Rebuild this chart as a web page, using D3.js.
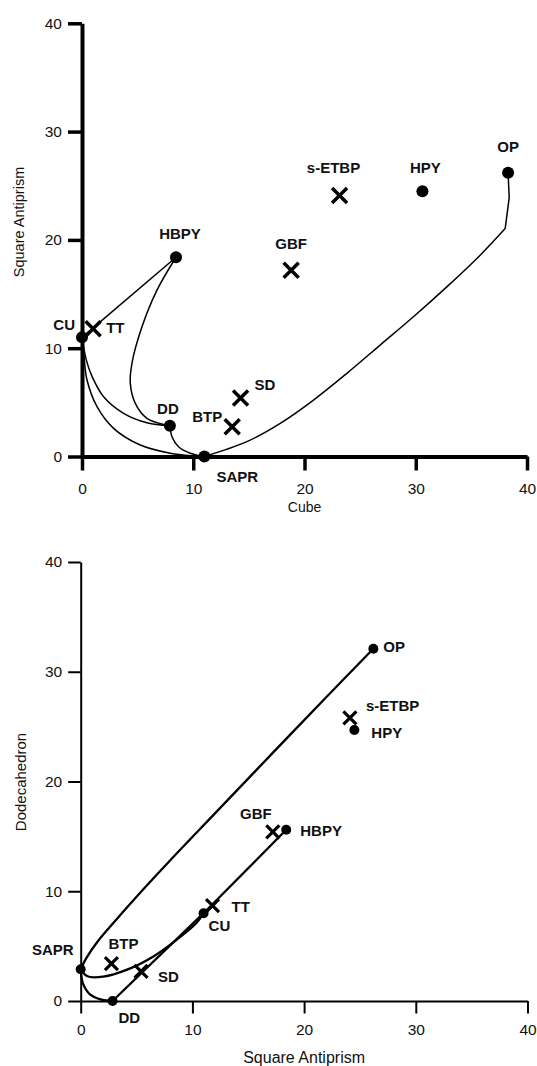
<!DOCTYPE html>
<html>
<head>
<meta charset="utf-8">
<script src="https://cdn.jsdelivr.net/npm/d3@7"></script>
<style>
  html, body { margin: 0; padding: 0; background: #fff; }
  svg { display: block; font-family: "Liberation Sans", Arial, Helvetica, sans-serif; }
</style>
</head>
<body>
<svg id="chart" width="537" height="1066"></svg>
<script>
// Continuous shape measures of each coordination polyhedron
const shapes = ["CU", "TT", "HBPY", "DD", "BTP", "SD", "SAPR", "GBF", "s-ETBP", "HPY", "OP"];
const cube            = [0,    1.0,  8.45, 7.9,  13.5, 14.25, 11.0, 18.8, 23.15, 30.6, 38.3];
const squareAntiprism = [11.0, 11.8, 18.4, 2.85, 2.75, 5.4,   0,    17.2, 24.1,  24.5, 26.2];
const dodecahedron    = [8.0,  8.7,  15.6, 0,    3.4,  2.7,   2.9,  15.4, 25.8,  24.7, 32.1];
// Ideal polyhedra get a filled dot, the others a cross
const idealShapes = ["CU", "HBPY", "DD", "SAPR", "HPY", "OP"];
const axisTicks = [0, 10, 20, 30, 40];

// Minimal-distortion interconversion paths: smooth "via" points, then an optional
// straight "tail" drawn with corners up to the end shape
const cubeSapPaths = [
  { from: "CU", to: "HBPY", via: [] },
  { from: "HBPY", to: "DD", via: [[6.74, 15.36], [5.39, 11.97], [4.49, 8.6], [4.34, 6.75], [4.79, 4.91], [5.84, 3.52], [6.9, 3.08]] },
  { from: "CU", to: "DD", via: [[0.39, 8.9], [0.9, 7.4], [1.94, 5.52], [3.74, 3.99], [5.84, 3.12]] },
  { from: "CU", to: "SAPR", via: [[0.2, 9.0], [0.45, 7.06], [1.35, 4.6], [2.84, 2.6], [5.24, 1.06], [7.93, 0.3], [10.03, 0.05]] },
  { from: "DD", to: "SAPR", via: [[8.09, 1.83], [8.68, 0.9], [9.73, 0.3]] },
  { from: "SAPR", to: "OP", via: [[14.82, 1.37], [17.82, 3.06], [20.81, 5.21], [23.81, 7.68], [26.8, 10.29], [29.79, 12.9], [32.79, 15.66], [35.79, 18.59], [38.04, 21.05]], tail: [[38.4, 23.9]] }
];
const sapDodPaths = [
  { from: "SAPR", to: "OP", via: [[0.5, 3.9], [1.5, 5.4], [3.0, 7.2], [5.0, 9.5], [8.0, 12.8], [12, 17.07], [17, 22.4], [22, 27.7]] },
  { from: "SAPR", to: "CU", via: [[0.6, 2.25], [2.01, 2.22], [4.1, 2.83], [6.47, 4.04], [8.56, 5.56], [10.34, 7.08]] },
  { from: "SAPR", to: "DD", via: [[0.2, 1.6], [0.83, 0.6], [1.87, 0.12]] },
  { from: "DD", to: "CU", via: [] },
  { from: "CU", to: "HBPY", via: [] }
];

// Label placement: [anchor, dx, dy] in pixels from the marker
const cubeSapLabels = {
  "CU": ["end", -7, -7], "TT": ["start", 13, 4], "HBPY": ["middle", 4, -18],
  "DD": ["middle", -2, -12], "BTP": ["end", -10, -5], "SD": ["start", 14, -8],
  "SAPR": ["start", 12, 25], "GBF": ["middle", 0, -21], "s-ETBP": ["middle", -6, -22],
  "HPY": ["middle", 3, -18], "OP": ["middle", 0, -21]
};
const sapDodLabels = {
  "CU": ["start", 5, 18], "TT": ["start", 19, 6], "HBPY": ["start", 14, 6],
  "DD": ["start", 6, 22], "BTP": ["middle", 12, -15], "SD": ["start", 17, 11],
  "SAPR": ["end", -7, -14], "GBF": ["middle", -17, -13], "s-ETBP": ["start", 16, -7],
  "HPY": ["start", 17, 8], "OP": ["start", 10, 3]
};

const svg = d3.select("#chart");
svg.append("rect").attr("width", 537).attr("height", 1066).attr("fill", "#fff");

const idx = name => shapes.indexOf(name);

function drawPanel(cfg) {
  const g = svg.append("g");
  const x = d3.scaleLinear().domain([0, 40]).range(cfg.xRange);
  const y = d3.scaleLinear().domain([0, 40]).range(cfg.yRange);

  // axes
  const xAxis = d3.axisBottom(x).tickValues(axisTicks).tickSize(cfg.tickLen)
    .tickSizeOuter(0).tickPadding(cfg.xPad);
  const yAxis = d3.axisLeft(y).tickValues(axisTicks).tickSize(cfg.tickLen)
    .tickSizeOuter(0).tickPadding(cfg.yPad);
  const gx = g.append("g").attr("transform", `translate(0,${y(0)})`).call(xAxis);
  const gy = g.append("g").attr("transform", `translate(${x(0)},0)`).call(yAxis);
  [gx, gy].forEach(a => {
    a.select(".domain").attr("stroke", "#000").attr("stroke-width", cfg.axisWidth);
    a.selectAll(".tick line").attr("stroke", "#000").attr("stroke-width", cfg.tickWidth);
    a.selectAll(".tick text").attr("fill", "#111").attr("font-size", 15.5)
      .attr("font-family", "Liberation Sans, Arial, Helvetica, sans-serif");
  });

  // axis titles
  g.append("text").attr("x", x(20)).attr("y", cfg.xTitleY).attr("text-anchor", "middle")
    .attr("font-size", cfg.xTitleSize).attr("fill", "#111").text(cfg.xTitle);
  g.append("text").attr("transform", `translate(${cfg.yTitleX},${cfg.yTitleY}) rotate(-90)`)
    .attr("text-anchor", "middle").attr("font-size", cfg.yTitleSize).attr("fill", "#111").text(cfg.yTitle);

  // interconversion paths
  const smooth = d3.line().x(d => x(d[0])).y(d => y(d[1])).curve(d3.curveCatmullRom.alpha(0.5));
  const straight = d3.line().x(d => x(d[0])).y(d => y(d[1]));
  cfg.paths.forEach(p => {
    const a = idx(p.from), b = idx(p.to);
    const start = [cfg.xs[a], cfg.ys[a]], end = [cfg.xs[b], cfg.ys[b]];
    if (p.tail) {
      g.append("path").attr("d", smooth([start, ...p.via])).attr("fill", "none")
        .attr("stroke", "#000").attr("stroke-width", cfg.pathWidth);
      g.append("path").attr("d", straight([p.via[p.via.length - 1], ...p.tail, end]))
        .attr("fill", "none").attr("stroke", "#000").attr("stroke-width", cfg.pathWidth)
        .attr("stroke-linejoin", "round");
    } else {
      g.append("path").attr("d", smooth([start, ...p.via, end])).attr("fill", "none")
        .attr("stroke", "#000").attr("stroke-width", cfg.pathWidth);
    }
  });

  // markers
  shapes.forEach((name, i) => {
    const px = x(cfg.xs[i]), py = y(cfg.ys[i]);
    if (idealShapes.includes(name)) {
      g.append("circle").attr("cx", px).attr("cy", py).attr("r", cfg.dotR).attr("fill", "#000");
    } else {
      const h = cfg.crossHalf;
      g.append("path")
        .attr("d", `M${px - h},${py - h}L${px + h},${py + h}M${px - h},${py + h}L${px + h},${py - h}`)
        .attr("stroke", "#000").attr("stroke-width", cfg.crossWidth).attr("fill", "none");
    }
    const [anchor, dx, dy] = cfg.labels[name];
    g.append("text").attr("x", px + dx).attr("y", py + dy).attr("text-anchor", anchor)
      .attr("font-size", 15).attr("font-weight", "bold").attr("fill", "#111").text(name);
  });
}

// Cube vs. square antiprism
drawPanel({
  xRange: [82, 527], yRange: [456.5, 23.3],
  xs: cube, ys: squareAntiprism,
  tickLen: 14, xPad: 12, yPad: 6, axisWidth: 4, tickWidth: 3.5,
  xTitle: "Cube", xTitleY: 512, xTitleSize: 14,
  yTitle: "Square Antiprism", yTitleX: 24, yTitleY: 222, yTitleSize: 14.5,
  paths: cubeSapPaths, pathWidth: 1.5,
  dotR: 6, crossHalf: 7.5, crossWidth: 3.5,
  labels: cubeSapLabels
});

// Square antiprism vs. dodecahedron
drawPanel({
  xRange: [80.7, 527.5], yRange: [1001, 562],
  xs: squareAntiprism, ys: dodecahedron,
  tickLen: 12.5, xPad: 10, yPad: 6, axisWidth: 2, tickWidth: 2,
  xTitle: "Square Antiprism", xTitleY: 1063, xTitleSize: 16,
  yTitle: "Dodecahedron", yTitleX: 26, yTitleY: 782, yTitleSize: 15,
  paths: sapDodPaths, pathWidth: 2.3,
  dotR: 5, crossHalf: 6.5, crossWidth: 3.2,
  labels: sapDodLabels
});
</script>
</body>
</html>
